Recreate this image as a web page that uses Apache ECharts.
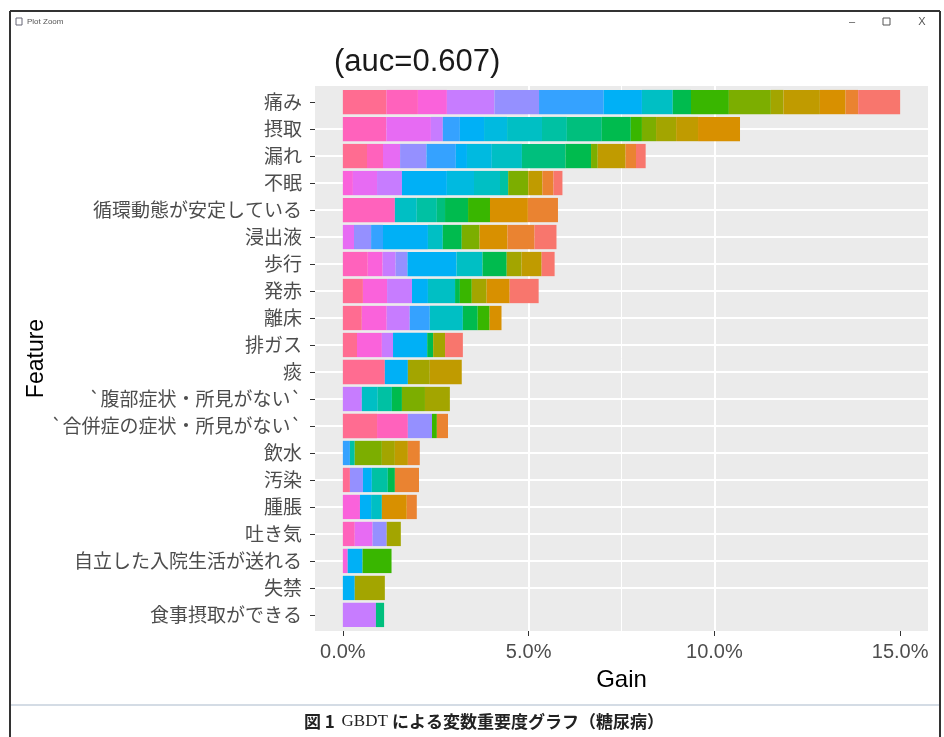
<!DOCTYPE html>
<html>
<head>
<meta charset="utf-8">
<script src="https://cdn.jsdelivr.net/npm/echarts@6/dist/echarts.min.js"></script>
<style>
  html, body { margin: 0; padding: 0; background: #fff; }
  #chart { width: 944px; height: 737px; }
</style>
</head>
<body>
<div id="chart"></div>
<script>
// feature names, top to bottom
const features = [
  '痛み', '摂取', '漏れ', '不眠', '循環動態が安定している', '浸出液', '歩行', '発赤', '離床', '排ガス',
  '痰', '`腹部症状・所見がない`', '`合併症の症状・所見がない`', '飲水', '汚染', '腫脹', '吐き気',
  '自立した入院生活が送れる', '失禁', '食事摂取ができる'
]

// per-feature gain pieces: [fill level, gain %], level 0..19 (ggplot hue order)
const segPain = [[19, 1.17], [18, 0.85], [17, 0.78], [15, 1.28], [14, 1.20], [13, 1.74], [12, 1.03], [10, 0.83], [7, 0.49], [6, 1.02], [5, 1.13], [4, 0.34], [3, 0.98], [2, 0.69], [1, 0.34], [0, 1.13]]
const segIntake = [[18, 1.17], [16, 1.20], [15, 0.32], [13, 0.46], [12, 0.65], [11, 0.62], [10, 0.94], [9, 0.67], [8, 0.94], [7, 0.78], [6, 0.30], [5, 0.38], [4, 0.54], [3, 0.59], [2, 1.13]]
const segLeak = [[19, 0.65], [18, 0.43], [16, 0.46], [14, 0.71], [13, 0.79], [12, 0.30], [11, 0.67], [10, 0.81], [8, 1.17], [7, 0.69], [5, 0.18], [3, 0.75], [1, 0.28], [0, 0.26]]
const segInsomnia = [[17, 0.27], [16, 0.65], [15, 0.67], [12, 1.21], [11, 0.73], [10, 0.70], [9, 0.22], [5, 0.54], [3, 0.38], [1, 0.30], [0, 0.24]]
const segCirculation = [[18, 1.40], [10, 0.59], [9, 0.54], [8, 0.22], [7, 0.62], [6, 0.59], [2, 1.02], [1, 0.81]]
const segExudate = [[16, 0.30], [14, 0.46], [13, 0.32], [12, 1.21], [10, 0.40], [7, 0.51], [5, 0.48], [2, 0.75], [1, 0.73], [0, 0.59]]
const segWalking = [[18, 0.67], [17, 0.40], [15, 0.35], [14, 0.32], [12, 1.32], [10, 0.70], [7, 0.65], [4, 0.40], [3, 0.54], [0, 0.35]]
const segRedness = [[19, 0.54], [17, 0.65], [15, 0.67], [12, 0.43], [10, 0.73], [7, 0.13], [6, 0.32], [4, 0.40], [2, 0.62], [0, 0.78]]
const segLeaveBed = [[19, 0.51], [17, 0.67], [15, 0.62], [13, 0.54], [10, 0.89], [7, 0.40], [6, 0.32], [2, 0.32]]
const segFlatus = [[19, 0.38], [17, 0.67], [15, 0.30], [12, 0.92], [7, 0.16], [4, 0.32], [0, 0.48]]
const segSputum = [[19, 1.13], [12, 0.62], [4, 0.59], [3, 0.86]]
const segAbdomen = [[15, 0.51], [10, 0.43], [9, 0.38], [7, 0.27], [5, 0.62], [4, 0.67]]
const segComplication = [[19, 0.92], [18, 0.83], [14, 0.65], [6, 0.13], [1, 0.30]]
const segDrinking = [[13, 0.19], [9, 0.13], [5, 0.73], [4, 0.35], [3, 0.35], [1, 0.32]]
const segSoiling = [[19, 0.19], [14, 0.35], [12, 0.24], [9, 0.43], [7, 0.19], [1, 0.65]]
const segSwelling = [[17, 0.46], [12, 0.30], [10, 0.29], [2, 0.67], [1, 0.27]]
const segNausea = [[18, 0.32], [16, 0.48], [14, 0.38], [4, 0.38]]
const segSelfCare = [[17, 0.13], [12, 0.40], [6, 0.78]]
const segIncontinence = [[12, 0.32], [4, 0.81]]
const segEating = [[15, 0.89], [8, 0.22]]

const segments = [
  segPain, segIntake, segLeak, segInsomnia, segCirculation, segExudate, segWalking, segRedness,
  segLeaveBed, segFlatus, segSputum, segAbdomen, segComplication, segDrinking, segSoiling,
  segSwelling, segNausea, segSelfCare, segIncontinence, segEating
]

// axis ticks (percent)
const majorTicks = [0, 5, 10, 15]
const minorTicks = [2.5, 7.5, 12.5]

// ggplot default hue palette, 20 levels
const hue20 = ['#F8766D', '#EA8331', '#D89000', '#C09B00', '#A3A500', '#7CAE00', '#39B600', '#00BB4E', '#00BF7D', '#00C1A3',
  '#00BFC4', '#00BAE0', '#00B0F6', '#35A2FF', '#9590FF', '#C77CFF', '#E76BF3', '#FA62DB', '#FF62BC', '#FF6C91']

const sans = '"Liberation Sans", Arial, sans-serif'
const jp = '"Noto Sans CJK JP", sans-serif'

// one stacked series per fill level, highest level on the left
const series = []
for (let lv = hue20.length - 1; lv >= 0; lv--) {
  series.push({
    type: 'bar',
    name: 'level' + lv,
    stack: 'gain',
    xAxisIndex: 3,
    yAxisIndex: 0,
    barCategoryGap: '10%',
    itemStyle: { color: hue20[lv] },
    data: segments.map(seg => seg.filter(s => s[0] === lv).reduce((a, s) => a + s[1], 0))
  })
}

// panel like ggplot: discrete axis expanded by 0.6 of a step on each side
const panel = { left: 315, right: 16, top: 86, bottom: 106 }
const step = (737 - panel.top - panel.bottom) / (features.length + 1.2)
const xRange = { min: -0.75, max: 15.75 }
const centres = features.map((_, i) => i)

const chart = echarts.init(document.getElementById('chart'), null, { renderer: 'canvas' })

chart.setOption({
  animation: false,
  backgroundColor: '#fff',
  title: {
    text: '(auc=0.607)',
    left: 329,
    top: 42,
    textStyle: { fontFamily: sans, fontSize: 31, fontWeight: 'normal', color: '#1a1a1a' }
  },
  grid: [
    Object.assign({ show: true, backgroundColor: '#EBEBEB', borderWidth: 0 }, panel),
    {
      left: panel.left, right: panel.right,
      top: panel.top + step * 0.1, bottom: panel.bottom + step * 0.1,
      show: false
    }
  ],
  xAxis: [{
    gridIndex: 0,
    type: 'value',
    min: xRange.min, max: xRange.max,
    name: 'Gain',
    nameLocation: 'middle',
    nameGap: 37,
    nameTextStyle: { fontFamily: sans, fontSize: 24, color: '#000' },
    axisLine: { show: false, onZero: false },
    axisTick: { show: true, customValues: majorTicks, length: 5, lineStyle: { color: '#333', width: 1 } },
    axisLabel: {
      customValues: majorTicks,
      margin: 11,
      fontFamily: sans, fontSize: 20, color: '#4D4D4D',
      formatter: v => v.toFixed(1) + '%'
    },
    splitLine: { show: false }
  }, {
    // major grid lines
    gridIndex: 0,
    type: 'value',
    min: xRange.min, max: xRange.max,
    position: 'bottom',
    axisLine: { show: false }, axisLabel: { show: false },
    axisTick: { show: false, customValues: majorTicks },
    splitLine: { show: true, showMinLine: false, showMaxLine: false, lineStyle: { color: '#fff', width: 2 } }
  }, {
    // minor grid lines
    gridIndex: 0,
    type: 'value',
    min: xRange.min, max: xRange.max,
    position: 'bottom',
    axisLine: { show: false }, axisLabel: { show: false },
    axisTick: { show: false, customValues: minorTicks },
    splitLine: { show: true, showMinLine: false, showMaxLine: false, lineStyle: { color: '#fff', width: 1 } }
  }, {
    // scale for the bars
    gridIndex: 1,
    type: 'value',
    min: xRange.min, max: xRange.max,
    axisLine: { show: false }, axisTick: { show: false }, axisLabel: { show: false },
    splitLine: { show: false }
  }],
  yAxis: [{
    gridIndex: 1,
    type: 'category',
    data: features,
    inverse: true,
    name: 'Feature',
    nameLocation: 'middle',
    nameRotate: 90,
    nameGap: 267,
    nameMoveOverlap: false,
    nameTextStyle: { fontFamily: sans, fontSize: 23, color: '#000' },
    axisLine: { show: false, onZero: false },
    axisTick: { show: true, alignWithLabel: true, length: 5, lineStyle: { color: '#333', width: 1 } },
    axisLabel: { margin: 13, fontFamily: jp, fontSize: 19, color: '#4D4D4D', interval: 0 },
    splitLine: { show: false }
  }, {
    // horizontal grid lines at the category centres
    gridIndex: 0,
    type: 'value',
    min: -0.6, max: features.length - 0.4,
    inverse: true,
    axisLine: { show: false }, axisLabel: { show: false },
    axisTick: { show: false, customValues: centres },
    splitLine: { show: true, showMinLine: false, showMaxLine: false, lineStyle: { color: '#fff', width: 2 } }
  }],
  series: series,
  graphic: [
    // window frame around the plot
    { type: 'line', shape: { x1: 10, y1: 11, x2: 940, y2: 11 }, style: { stroke: '#333', lineWidth: 2 }, z: 10 },
    { type: 'line', shape: { x1: 10, y1: 11, x2: 10, y2: 737 }, style: { stroke: '#333', lineWidth: 2 }, z: 10 },
    { type: 'line', shape: { x1: 940, y1: 11, x2: 940, y2: 737 }, style: { stroke: '#333', lineWidth: 2 }, z: 10 },
    { type: 'line', shape: { x1: 11, y1: 705, x2: 939, y2: 705 }, style: { stroke: '#A9B9CB', lineWidth: 1 }, z: 10 },
    { type: 'rect', shape: { x: 16, y: 18, width: 6, height: 7 }, style: { fill: '#fff', stroke: '#667', lineWidth: 1 }, z: 10 },
    { type: 'text', x: 27, y: 22, style: { text: 'Plot Zoom', fontFamily: sans, fontSize: 8, fill: '#555', verticalAlign: 'middle' }, z: 10 },
    { type: 'text', x: 852, y: 22, style: { text: '–', fontFamily: sans, fontSize: 11, fill: '#555', align: 'center', verticalAlign: 'middle' }, z: 10 },
    { type: 'rect', shape: { x: 883, y: 18, width: 7, height: 7 }, style: { fill: 'none', stroke: '#555', lineWidth: 1 }, z: 10 },
    { type: 'text', x: 922, y: 22, style: { text: 'X', fontFamily: sans, fontSize: 11, fill: '#555', align: 'center', verticalAlign: 'middle' }, z: 10 },
    // figure caption
    {
      type: 'text', x: 484, y: 722, z: 10,
      style: {
        text: '{b|図 1}  {s|GBDT }{b|による変数重要度グラフ（糖尿病）}',
        align: 'center', verticalAlign: 'middle',
        rich: {
          b: { fontFamily: jp, fontSize: 17, fontWeight: 'bold', fill: '#222' },
          s: { fontFamily: '"Liberation Serif", serif', fontSize: 17, fill: '#222' }
        }
      }
    }
  ]
})

window.addEventListener('resize', () => chart.resize())
</script>
</body>
</html>
